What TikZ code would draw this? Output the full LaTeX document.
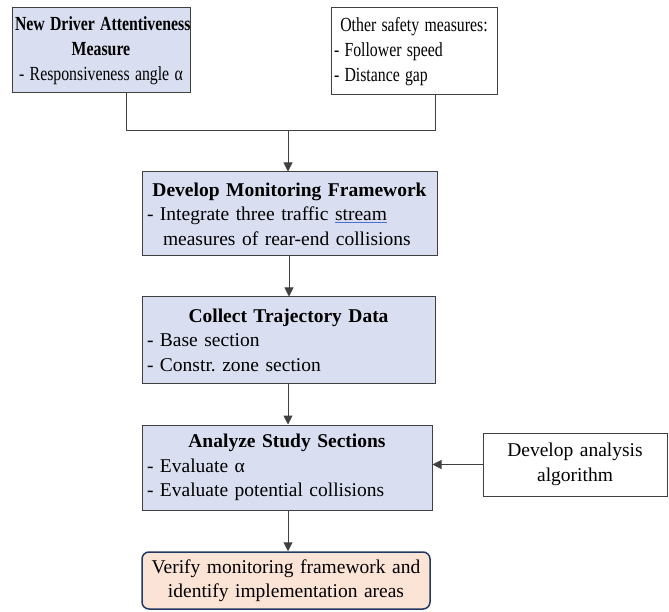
\documentclass[tikz,border=0pt]{standalone}
\usepackage{fontspec}
\usepackage{graphicx}
\setmainfont{Liberation Serif}
\usetikzlibrary{arrows.meta, positioning}
\definecolor{stepblue}{HTML}{D9DFF1}
\definecolor{endpeach}{HTML}{FBE3D6}
\definecolor{endborder}{HTML}{203864}
\definecolor{edgegray}{HTML}{404040}
\definecolor{markblue}{HTML}{4A6FD0}
\newcommand{\narrowline}[1]{\scalebox{0.79}[1]{#1}}
\frenchspacing

\begin{document}
\begin{tikzpicture}[x=1pt, y=1pt,
    box/.style={draw=edgegray, fill=#1, line width=1pt, inner xsep=5pt, inner ysep=2pt,
                font=\fontsize{19.5}{24.5}\selectfont},
    topbox/.style={box=#1, inner xsep=3pt, font=\fontsize{20}{25}\selectfont},
    arr/.style={-{Triangle[length=9pt, width=9pt]}, line width=1pt, edgegray},
    link/.style={line width=1pt, edgegray},
]
    \useasboundingbox (0,0) rectangle (669,611);

    % inputs
    \node[topbox=stepblue, minimum width=178pt, minimum height=85pt, text width=172pt, align=center]
        (attent) at (101,560.5)
        {\narrowline{\textbf{New Driver Attentiveness}}\\\narrowline{\textbf{Measure}}\\
         \narrowline{- Responsiveness angle α}};
    \node[topbox=white, minimum width=166pt, minimum height=87pt, text width=160pt, align=left]
        (safety) at (414,559.5)
        {{\centering\narrowline{Other safety measures:}\par}\narrowline{- Follower speed}\\
         \narrowline{- Distance gap}};

    % framework
    \node[box=stepblue, minimum width=295pt, minimum height=84pt, text width=285pt, align=left]
        (frame) at (289.5,397)
        {{\centering\bfseries Develop Monitoring Framework\par}- Integrate three traffic
         {\color{markblue}\underline{{\color{black}stream}}}\\\hspace*{16pt}measures of rear-end collisions};
    \coordinate (join) at (288,480);
    \draw[link] (attent.south -| 126,0) |- (join);
    \draw[link] (safety.south -| 435,0) |- (join);
    \draw[arr] (join) -- (join |- frame.north);

    % data
    \node[box=stepblue, minimum width=293pt, minimum height=86pt, text width=283pt, align=left]
        (collect) at (288.5,271)
        {{\centering\bfseries Collect Trajectory Data\par}- Base section\\- Constr. zone section};
    \draw[arr] (frame.south -| 289,0) -- (collect.north -| 289,0);

    % analysis
    \node[box=stepblue, minimum width=290pt, minimum height=85pt, text width=280pt, align=left]
        (analyze) at (287,143.5)
        {{\centering\bfseries Analyze Study Sections\par}- Evaluate α\\- Evaluate potential collisions};
    \draw[arr] (collect.south -| 288,0) -- (analyze.north -| 288,0);
    \node[box=white, minimum width=184pt, minimum height=63pt, text width=174pt, align=center]
        (algo) at (575,146.5) {Develop analysis\\algorithm};
    \draw[arr] (algo.west) -- (algo.west -| analyze.east);

    % result
    \node[box=endpeach, draw=endborder, line width=1.5pt, rounded corners=7pt,
          minimum width=288pt, minimum height=57pt, text width=278pt, align=center]
        (verify) at (286,30.5) {Verify monitoring framework and\\identify implementation areas};
    \draw[arr] (analyze.south -| 288,0) -- (verify.north -| 288,0);
\end{tikzpicture}
\end{document}
